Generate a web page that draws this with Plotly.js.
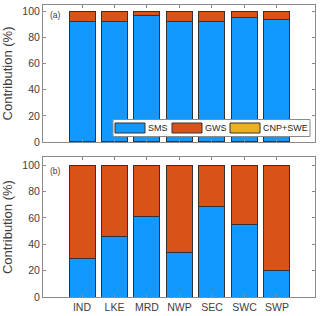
<!DOCTYPE html>
<html>
<head>
<meta charset="utf-8">
<script src="https://cdn.plot.ly/plotly-3.0.1.min.js"></script>
<style>html,body{margin:0;padding:0;background:#fff}#chart{width:320px;height:316px}</style>
</head>
<body>
<div id="chart"></div>
<script>
var categories = ['IND', 'LKE', 'MRD', 'NWP', 'SEC', 'SWC', 'SWP'];
// Panel (a)
var smsA = [92.1, 92.6, 96.7, 92.6, 92.1, 95.2, 94.2];
var gwsA = [7.9, 7.4, 3.3, 7.4, 7.9, 4.8, 5.8];
var cnpA = [0, 0, 0, 0, 0, 0, 0];
// Panel (b)
var smsB = [29.1, 45.6, 60.8, 33.4, 68.6, 55.2, 20.3];
var gwsB = [70.9, 54.4, 39.2, 66.6, 31.4, 44.8, 79.7];
var cnpB = [0, 0, 0, 0, 0, 0, 0];
var seriesNames = ['SMS', 'GWS', 'CNP+SWE'];
var colors = ['#1199FF', '#D95319', '#EDB120'];
var panelLabels = ['(a)', '(b)'];

var lineCol = '#333333';
function bar(x, y, i, xa, ya) {
  return {type: 'bar', x: x, y: y, name: seriesNames[i], xaxis: xa, yaxis: ya,
    width: 0.8, showlegend: false,
    marker: {color: colors[i], line: {color: lineCol, width: 1}}};
}
var data = [
  bar(categories, smsA, 0, 'x2', 'y2'),
  bar(categories, gwsA, 1, 'x2', 'y2'),
  bar(categories, cnpA, 2, 'x2', 'y2'),
  bar(categories, smsB, 0, 'x', 'y'),
  bar(categories, gwsB, 1, 'x', 'y'),
  bar(categories, cnpB, 2, 'x', 'y')
];

var axCol = '#8a8a8a';
var txtCol = '#404040';
var fontFam = 'Liberation Sans, Arial, sans-serif';
function xax(anchor, labels) {
  return {anchor: anchor, type: 'category', range: [-1.2, 7.17], showline: true, mirror: 'ticks',
    linecolor: axCol, linewidth: 1, ticks: 'inside', ticklen: 3, tickcolor: axCol,
    showgrid: false, zeroline: false, showticklabels: labels,
    tickfont: {size: 10.5, color: txtCol, family: fontFam}, fixedrange: true};
}
function yax(anchor, domain, top) {
  return {anchor: anchor, domain: domain, range: [0, top], tickvals: [0, 20, 40, 60, 80, 100],
    showline: true, mirror: 'ticks', linecolor: axCol, linewidth: 1, ticks: 'inside', ticklen: 3,
    tickcolor: axCol, showgrid: false, zeroline: false,
    tickfont: {size: 10.5, color: txtCol, family: fontFam},
    title: {text: 'Contribution (%)', font: {size: 13, color: txtCol, family: fontFam}, standoff: 7}};
}

// custom legend (paper coords): plot area x 43..315, y 5..297 px
function px2x(p) { return (p - 43) / 272; }
function py2y(p) { return (297 - p) / 292; }
var shapes = [
  {type: 'rect', xref: 'paper', yref: 'paper', x0: px2x(113), x1: px2x(310), y0: py2y(136.5), y1: py2y(119.5),
   fillcolor: '#ffffff', line: {color: axCol, width: 1}, layer: 'above'}
];
var annotations = [];
var patchX = [115, 172, 230];
for (var i = 0; i < 3; i++) {
  shapes.push({type: 'rect', xref: 'paper', yref: 'paper', x0: px2x(patchX[i]), x1: px2x(patchX[i] + 30),
    y0: py2y(133), y1: py2y(123), fillcolor: colors[i], line: {color: lineCol, width: 1}, layer: 'above'});
  annotations.push({xref: 'paper', yref: 'paper', x: px2x(patchX[i] + 31), y: py2y(128), xanchor: 'left',
    yanchor: 'middle', text: seriesNames[i], showarrow: false,
    font: {size: 9, color: '#262626', family: fontFam}});
}
annotations.push({xref: 'paper', yref: 'paper', x: px2x(48), y: py2y(15), xanchor: 'left', yanchor: 'middle',
  text: panelLabels[0], showarrow: false, font: {size: 8.5, color: txtCol, family: fontFam}});
annotations.push({xref: 'paper', yref: 'paper', x: px2x(48), y: py2y(171), xanchor: 'left', yanchor: 'middle',
  text: panelLabels[1], showarrow: false, font: {size: 8.5, color: txtCol, family: fontFam}});

var layout = {
  width: 320, height: 316,
  margin: {l: 43, r: 5, t: 5, b: 19},
  paper_bgcolor: '#ffffff', plot_bgcolor: '#ffffff',
  barmode: 'stack', bargap: 0.2,
  showlegend: false,
  font: {family: fontFam},
  xaxis: xax('y', true),
  yaxis: yax('x', [0, 0.479], 106),
  xaxis2: xax('y2', false),
  yaxis2: yax('x2', [0.531, 1], 105),
  shapes: shapes,
  annotations: annotations
};
Plotly.newPlot('chart', data, layout, {staticPlot: true, displayModeBar: false});
</script>
</body>
</html>
